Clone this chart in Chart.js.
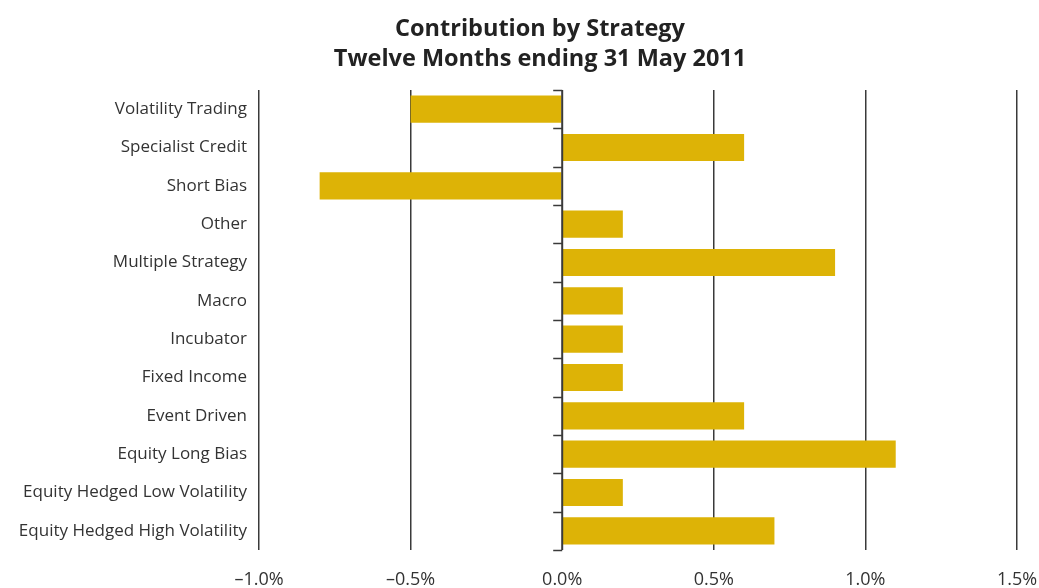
<!DOCTYPE html>
<html>
<head>
<meta charset="utf-8">
<script src="https://cdn.jsdelivr.net/npm/chart.js@4"></script>
<style>
    html, body { margin: 0; padding: 0; background: #fff; }
    #wrap { width: 1039px; height: 588px; }
</style>
</head>
<body>
<div id="wrap"><canvas id="contributionChart" width="1039" height="588"></canvas></div>
<script>
    // Strategies, top to bottom as shown
    const strategies = [
        'Volatility Trading', 'Specialist Credit', 'Short Bias', 'Other',
        'Multiple Strategy', 'Macro', 'Incubator', 'Fixed Income',
        'Event Driven', 'Equity Long Bias', 'Equity Hedged Low Volatility',
        'Equity Hedged High Volatility'
    ];
    // Contribution in percent
    const contribution = [-0.5, 0.6, -0.8, 0.2, 0.9, 0.2, 0.2, 0.2, 0.6, 1.1, 0.2, 0.7];
    const xTicks = [-1.0, -0.5, 0.0, 0.5, 1.0, 1.5];
    const titleLines = ['Contribution by Strategy', 'Twelve Months ending 31 May 2011'];

    const gold = '#DDB306';
    const lineColor = '#3a3a3a';

    // Two-line bold title, drawn above the plot
    const chartTitle = {
        id: 'chartTitle',
        afterDraw(chart) {
            const c = chart.ctx;
            c.save();
            c.fillStyle = '#222';
            c.font = 'bold 23.5px "Open Sans"';
            c.textAlign = 'center';
            c.textBaseline = 'middle';
            titleLines.forEach((t, i) => c.fillText(t, 540, 29 + i * 30));
            c.restore();
        }
    };

    // Zero line with small ticks at the category boundaries
    const zeroAxis = {
        id: 'zeroAxis',
        afterDatasetsDraw(chart) {
            const { ctx, scales: { x, y } } = chart;
            const x0 = x.getPixelForValue(0);
            ctx.save();
            ctx.strokeStyle = lineColor;
            ctx.lineWidth = 2;
            ctx.beginPath();
            ctx.moveTo(x0, chart.chartArea.top);
            ctx.lineTo(x0, chart.chartArea.bottom);
            ctx.stroke();
            ctx.lineWidth = 1.5;
            for (let i = 0; i <= strategies.length; i++) {
                const py = Math.round(y.getPixelForValue(i - 0.5)) + 0.5;
                ctx.beginPath();
                ctx.moveTo(x0 - 9, py);
                ctx.lineTo(x0, py);
                ctx.stroke();
            }
            ctx.restore();
        }
    };

    const ctx = document.getElementById('contributionChart').getContext('2d');
    new Chart(ctx, {
        type: 'bar',
        data: {
            labels: strategies,
            datasets: [{
                data: contribution,
                backgroundColor: gold,
                borderWidth: 0,
                barPercentage: 0.71,
                categoryPercentage: 1
            }]
        },
        options: {
            indexAxis: 'y',
            responsive: false,
            animation: false,
            layout: { padding: { left: 0, right: 0, top: 90, bottom: 0 } },
            plugins: {
                legend: { display: false },
                tooltip: { enabled: false },
                title: { display: false }
            },
            scales: {
                x: {
                    min: -1,
                    max: 1.5,
                    afterBuildTicks(scale) {
                        scale.ticks = xTicks.map(v => ({ value: v }));
                    },
                    afterFit(scale) {
                        scale.height = 38;
                        scale.paddingLeft = 0;
                        scale.paddingRight = 22;
                    },
                    ticks: {
                        color: '#333',
                        font: { family: 'Open Sans', size: 18 },
                        padding: 19,
                        maxRotation: 0,
                        callback: v => (v < 0 ? '\u2013' : '') + Math.abs(v).toFixed(1) + '%'
                    },
                    grid: {
                        color: ctx => ctx.tick && ctx.tick.value === 0 ? 'rgba(0,0,0,0)' : lineColor,
                        lineWidth: 1.5,
                        drawTicks: false
                    },
                    border: { display: false }
                },
                y: {
                    afterFit(scale) { scale.width = 259; },
                    ticks: {
                        color: '#333',
                        font: { family: 'Open Sans', size: 17 },
                        padding: 4
                    },
                    grid: { display: false },
                    border: { display: false }
                }
            }
        },
        plugins: [zeroAxis, chartTitle]
    });
</script>
</body>
</html>
